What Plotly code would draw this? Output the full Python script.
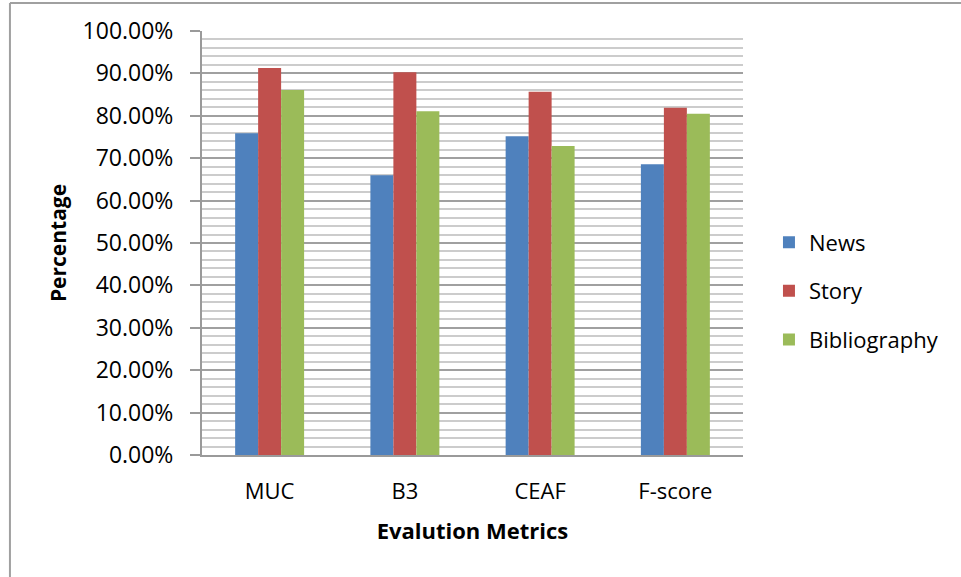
import plotly.graph_objects as go

categories = ["MUC", "B3", "CEAF", "F-score"]
news = [0.759, 0.660, 0.752, 0.686]
story = [0.913, 0.903, 0.857, 0.819]
bibliography = [0.861, 0.811, 0.729, 0.805]
series_names = ["News", "Story", "Bibliography"]
colors = ["#4F81BD", "#C0504D", "#9BBB59"]

FONT = "Open Sans"

fig = go.Figure()
for i, (name, vals) in enumerate(zip(series_names, [news, story, bibliography])):
    fig.add_trace(go.Bar(
        x=categories, y=vals, name=name, legendgroup=name,
        marker=dict(color=colors[i], line=dict(width=0)),
    ))

fig.update_layout(
    width=961, height=577,
    margin=dict(l=202, r=218, t=31, b=122),
    paper_bgcolor="white", plot_bgcolor="white",
    barmode="group", bargap=0.49, bargroupgap=0,
    font=dict(family=FONT, size=22, color="#000000"),
    showlegend=True,
    legend=dict(x=1.048, y=0.387, xanchor="left", yanchor="middle",
                traceorder="grouped", tracegroupgap=17,
                font=dict(family=FONT, size=22), itemwidth=30),
    xaxis=dict(
        showline=True, linecolor="#9a9a9a", linewidth=2,
        ticks="", tickfont=dict(family=FONT, size=22), ticklabelstandoff=16,
        title=dict(text="<b>Evalution Metrics</b>", font=dict(family=FONT, size=22), standoff=19),
        showgrid=False,
    ),
    yaxis=dict(
        range=[0, 1], dtick=0.1, tickformat=".2%",
        showline=True, linecolor="#9a9a9a", linewidth=2,
        ticks="outside", ticklen=10, tickcolor="#9a9a9a", tickwidth=2,
        tickfont=dict(family=FONT, size=23), ticklabelstandoff=12,
        showgrid=True, gridcolor="#a0a0a0", gridwidth=2,
        minor=dict(dtick=0.02, showgrid=True, gridcolor="#cccccc", gridwidth=1.5, ticks=""),
        title=dict(text="<b>Percentage</b>", font=dict(family=FONT, size=21), standoff=10),
        zeroline=False,
    ),
    shapes=[
        dict(type="line", xref="paper", yref="paper", x0=-0.355, x1=1.5, y0=1.066, y1=1.066,
             line=dict(color="#a0a0a0", width=2)),
        dict(type="line", xref="paper", yref="paper", x0=-0.355, x1=-0.355, y0=-0.3, y1=1.066,
             line=dict(color="#a0a0a0", width=2)),
    ],
)

fig.write_html("out.html", config={"displayModeBar": False},
               post_script="document.body.style.margin='0';")
